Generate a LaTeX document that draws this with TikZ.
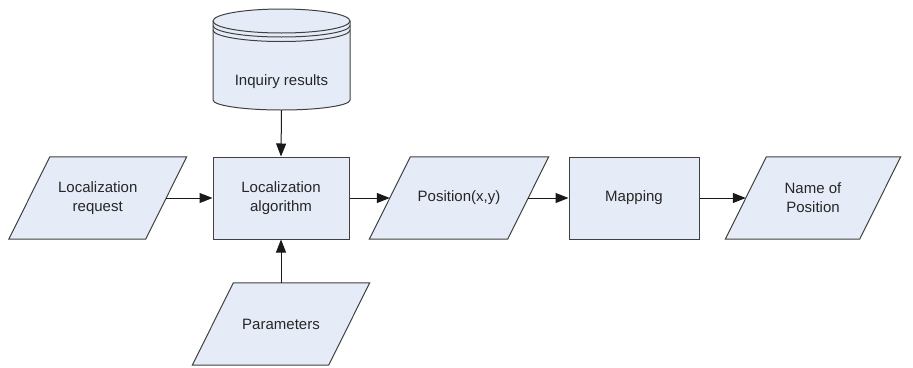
\documentclass[tikz,border=0pt]{standalone}
\usepackage{fontspec}
\setmainfont{Liberation Sans}
\usetikzlibrary{arrows.meta,backgrounds}
\definecolor{boxfill}{HTML}{E6ECF7}
\definecolor{boxline}{HTML}{404040}
\newcommand\flowfont{\fontsize{15}{19}\selectfont}
% parallelogram (data) outline drawn behind a named node
\newcommand\iopar[1]{%
  \begin{pgfonlayer}{background}
    \draw[shapeline] ([xshift=20.5pt]#1.north west) -- ([xshift=20.5pt]#1.north east)
      -- ([xshift=-20.5pt]#1.south east) -- ([xshift=-20.5pt]#1.south west) -- cycle;
  \end{pgfonlayer}}
\tikzset{
  shapeline/.style={draw=boxline, line width=1pt, fill=boxfill, line join=miter},
  procbox/.style={shapeline, rectangle, minimum height=82pt, inner sep=0pt,
    align=center, font=\flowfont, text=black!85},
  iobox/.style={rectangle, minimum height=82pt, inner sep=0pt,
    align=center, font=\flowfont, text=black!85},
  flow/.style={draw=black!90, line width=1pt, -{Triangle[length=13pt,width=10pt]}}
}
\begin{document}
\begin{tikzpicture}[x=1pt, y=-1pt]
  \useasboundingbox (0,0) rectangle (913,367);
  \begin{pgfonlayer}{background}
    \fill[white] (0,0) rectangle (913,367);
  \end{pgfonlayer}

  % storage
  \node[minimum width=137pt, minimum height=56pt, inner sep=0pt,
        font=\flowfont, text=black!85] (db) at (281.5,82) {Inquiry results};

  % main flow
  \node[iobox, minimum width=136.5pt] (req) at (97.75,198) {Localization\\request};
  \node[procbox, minimum width=136pt] (alg) at (281,198) {Localization\\algorithm};
  \node[iobox, minimum width=136pt] (par) at (281,324) {Parameters};
  \node[iobox, minimum width=138pt] (pos) at (459,198) {Position(x,y)};
  \node[procbox, minimum width=130pt] (map) at (634,198) {Mapping};
  \node[iobox, minimum width=134pt] (name) at (813,198) {Name of\\Position};

  \iopar{req}
  \iopar{par}
  \iopar{pos}
  \iopar{name}

  % cylinder outline
  \begin{pgfonlayer}{background}
    \draw[shapeline] (213,21) -- (213,100)
      arc[start angle=180, end angle=360, x radius=68.5pt, y radius=10pt]
      -- (350,21)
      arc[start angle=0, end angle=180, x radius=68.5pt, y radius=12pt] -- cycle;
    \draw[draw=boxline, line width=1pt] (213,21)
      arc[start angle=180, end angle=360, x radius=68.5pt, y radius=12pt];
    \draw[draw=boxline, line width=1pt] (213,25.5)
      arc[start angle=180, end angle=360, x radius=68.5pt, y radius=11.5pt];
    \draw[draw=boxline, line width=1pt] (213,30)
      arc[start angle=180, end angle=360, x radius=68.5pt, y radius=11.5pt];
  \end{pgfonlayer}

  % connectors
  \draw[flow] (db.south) -- (alg.north);
  \draw[flow] (par.north) -- (alg.south);
  \draw[flow] (req.east) -- (alg.west);
  \draw[flow] (alg.east) -- (pos.west);
  \draw[flow] (pos.east) -- (map.west);
  \draw[flow] (map.east) -- (name.west);
\end{tikzpicture}
\end{document}
